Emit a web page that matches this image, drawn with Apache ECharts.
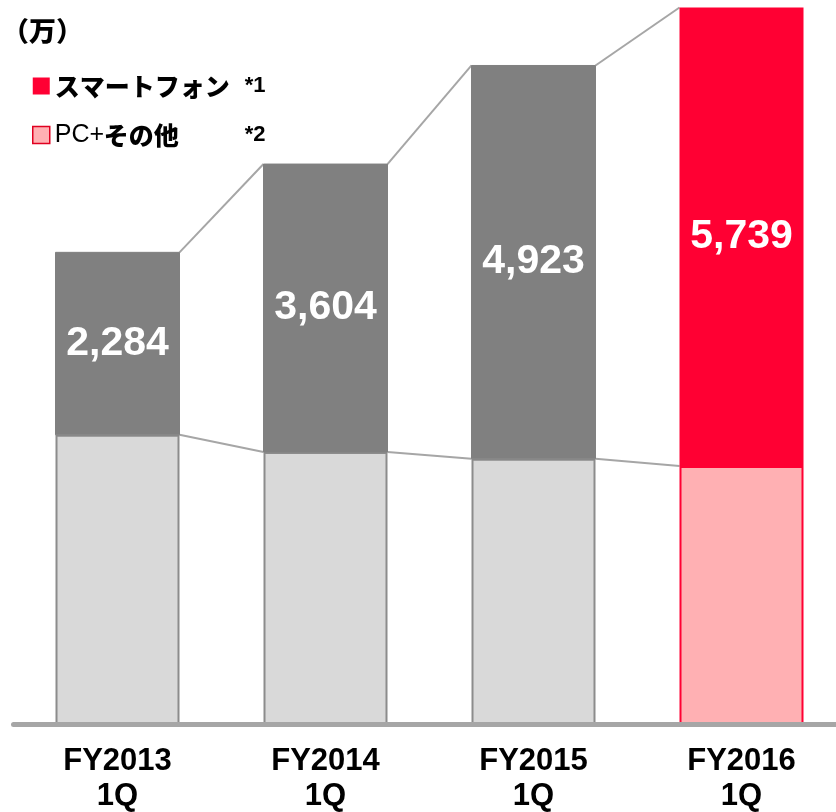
<!DOCTYPE html>
<html>
<head>
<meta charset="utf-8">
<title>chart</title>
<script src="https://cdn.jsdelivr.net/npm/echarts@6/dist/echarts.min.js"></script>
<style>
    html, body { margin: 0; padding: 0; background: #fff; }
    #main { width: 836px; height: 812px; }
</style>
</head>
<body>
<div id="main"></div>
<script>
var categories = ["FY2013\n1Q", "FY2014\n1Q", "FY2015\n1Q", "FY2016\n1Q"]; //横轴
var smartphone = [2284, 3604, 4923, 5739]; //スマートフォン
var pcOther = [3620, 3405, 3320, 3230]; //PC+その他

var chart = echarts.init(document.getElementById("main"));

var fontEn = "'Liberation Sans', Arial, 'Noto Sans CJK JP', sans-serif";
var fontJp = "'Noto Sans CJK JP', 'Liberation Sans', sans-serif";

var barW = 124; //柱宽
var catW = 208; //每个类目宽度
var half = barW / 2 / catW; //半个柱宽 (类目单位)

//前三个是灰色, 最后一个是红色
function barData(vals, grey, border) {
    var arr = [];
    for (var i = 0; i < vals.length; i++) {
        if (i < vals.length - 1) {
            arr.push({ value: vals[i], itemStyle: { color: grey, borderColor: border } });
        } else {
            arr.push(vals[i]);
        }
    }
    return arr;
}

//柱子之间的连接线
function linkSeries(vals) {
    var list = [];
    for (var i = 0; i < vals.length - 1; i++) {
        list.push({
            type: "line",
            xAxisIndex: 1,
            yAxisIndex: 0,
            data: [[i + half, vals[i]], [i + 1 - half, vals[i + 1]]],
            symbol: "none",
            silent: true,
            z: 1,
            lineStyle: { color: "#a6a6a6", width: 2 }
        });
    }
    return list;
}

var totals = [];
for (var i = 0; i < smartphone.length; i++) {
    totals.push(smartphone[i] + pcOther[i]);
}

var series = [{
    name: "PC+その他",
    type: "bar",
    stack: "all",
    barWidth: barW,
    z: 3,
    itemStyle: { color: "#ffb0b3", borderColor: "#ff0033", borderWidth: 2 },
    data: barData(pcOther, "#d9d9d9", "#8c8c8c")
}, {
    name: "スマートフォン",
    type: "bar",
    stack: "all",
    barWidth: barW,
    z: 3,
    itemStyle: { color: "#ff0033" },
    label: {
        show: true,
        position: "inside",
        color: "#fff",
        fontSize: 41,
        fontWeight: "bold",
        fontFamily: fontEn,
        formatter: function(p) {
            return p.value.toLocaleString("en-US");
        }
    },
    data: barData(smartphone, "#808080", "#808080")
}];

series = series.concat(linkSeries(totals)).concat(linkSeries(pcOther));

var option = {
    animation: false,
    grid: {
        left: 13.5,
        width: catW * categories.length,
        top: 5,
        bottom: 88,
        outerBoundsMode: "none",
        containLabel: false
    },
    xAxis: [{
        type: "category",
        data: categories,
        axisTick: { show: false },
        axisLine: { lineStyle: { color: "#a6a6a6", width: 5 } },
        axisLabel: {
            color: "#000",
            fontSize: 31,
            fontWeight: "bold",
            fontFamily: fontEn,
            lineHeight: 35,
            margin: 20
        },
        z: 5
    }, {
        type: "value",
        min: -0.5,
        max: 3.5,
        show: false
    }],
    yAxis: {
        type: "value",
        min: 0,
        max: 9000,
        show: false
    },
    legend: {
        orient: "vertical",
        left: 27,
        top: 65,
        itemWidth: 17,
        itemHeight: 17,
        itemGap: 17,
        icon: "rect",
        data: [{
            name: "スマートフォン",
            itemStyle: { color: "#ff0033" }
        }, {
            name: "PC+その他",
            itemStyle: { color: "#ffb0b3", borderColor: "#e00020", borderWidth: 1.5 }
        }],
        formatter: function(name) {
            if (name == "スマートフォン") {
                return "{b|スマートフォン}{n|*1}";
            }
            return "{r|PC+}{c|その他}{n|*2}";
        },
        textStyle: {
            lineHeight: 32,
            rich: {
                b: { fontSize: 25, fontWeight: 900, fontFamily: fontJp, color: "#000", width: 190 },
                r: { fontSize: 25, fontFamily: fontEn, color: "#000", width: 49 },
                c: { fontSize: 25, fontWeight: 900, fontFamily: fontJp, color: "#000", width: 141 },
                n: { fontSize: 22, fontWeight: "bold", fontFamily: fontEn, color: "#000" }
            }
        }
    },
    graphic: [{
        type: "text",
        left: 2,
        top: 17,
        style: {
            text: "（万）",
            fontSize: 27,
            fontWeight: 900,
            fontFamily: fontJp,
            fill: "#000"
        }
    }],
    series: series
};

chart.setOption(option);
</script>
</body>
</html>
